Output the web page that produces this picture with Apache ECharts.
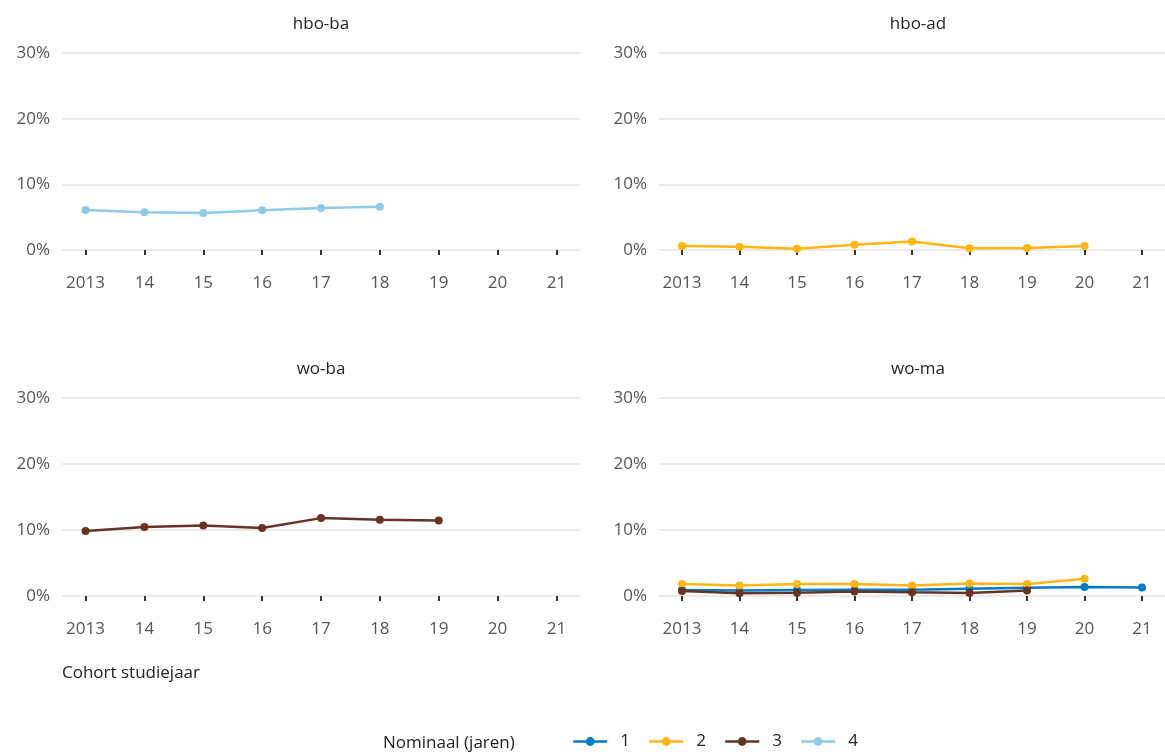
<!DOCTYPE html>
<html>
<head>
<meta charset="utf-8">
<script src="https://cdn.jsdelivr.net/npm/echarts@6/dist/echarts.min.js"></script>
<style>
  html, body { margin: 0; padding: 0; background: #fff; }
  #chart { width: 1165px; height: 754px; }
</style>
</head>
<body>
<div id="chart"></div>
<script>
// cohort years on the x axis
const years = [2013, 2014, 2015, 2016, 2017, 2018, 2019, 2020, 2021];

// panel names
const panels = ['hbo-ba', 'hbo-ad', 'wo-ba', 'wo-ma'];

// percentages per panel / nominal duration
const hboBa4 = [6.1, 5.75, 5.65, 6.05, 6.4, 6.6];
const hboAd2 = [0.6, 0.5, 0.2, 0.8, 1.3, 0.25, 0.3, 0.6];
const woBa3 = [9.85, 10.45, 10.7, 10.3, 11.8, 11.55, 11.45];
const woMa1 = [0.9, 0.85, 0.9, 0.95, 0.95, 1.1, 1.25, 1.35, 1.3];
const woMa2 = [1.8, 1.6, 1.8, 1.8, 1.6, 1.9, 1.8, 2.6];
const woMa3 = [0.75, 0.4, 0.5, 0.7, 0.55, 0.45, 0.85];

const colors = { '1': '#007bc7', '2': '#ffb612', '3': '#673327', '4': '#8fcae7' };
const font = 'Open Sans';

const grids = [
  { left: 62, top: 53, width: 518, height: 197 },
  { left: 659, top: 53, width: 518, height: 197 },
  { left: 62, top: 398, width: 518, height: 198 },
  { left: 659, top: 398, width: 518, height: 198 }
];

const pairs = vals => vals.map((v, i) => [years[i], v]);

const xAxes = grids.map((g, i) => ({
  type: 'value',
  gridIndex: i,
  min: 2012.6,
  max: 2021.4,
  offset: 11,
  axisLine: { show: false },
  splitLine: { show: false },
  axisTick: { show: true, customValues: years, length: 5, lineStyle: { color: '#333', width: 2 } },
  axisLabel: {
    customValues: years,
    margin: 14,
    color: '#555',
    fontSize: 17,
    fontFamily: font,
    formatter: v => (v === 2013 ? '2013' : String(v).slice(2))
  }
}));

const yAxes = grids.map((g, i) => ({
  type: 'value',
  gridIndex: i,
  min: 0,
  max: 30,
  interval: 10,
  axisLine: { show: false },
  axisTick: { show: false },
  splitLine: { lineStyle: { color: '#ebebeb', width: 2 } },
  axisLabel: { margin: 12, color: '#555', fontSize: 17, fontFamily: font, formatter: '{value}%' }
}));

function line(name, idx, vals) {
  return {
    name: name,
    type: 'line',
    xAxisIndex: idx,
    yAxisIndex: idx,
    data: pairs(vals),
    clip: false,
    symbol: 'circle',
    symbolSize: 8,
    color: colors[name],
    lineStyle: { width: 2.5 },
    emphasis: { disabled: true }
  };
}

const series = [
  line('4', 0, hboBa4),
  line('2', 1, hboAd2),
  line('3', 2, woBa3),
  line('1', 3, woMa1),
  line('2', 3, woMa2),
  line('3', 3, woMa3)
];

const textStyle = { fontSize: 17, fontWeight: 'normal', color: '#222', fontFamily: font };

const titles = panels.map((p, i) => ({
  text: p,
  left: grids[i].left + 259,
  top: i < 2 ? 16 : 361,
  padding: 0,
  textAlign: 'center',
  textStyle: textStyle
}));
titles.push({ text: 'Cohort studiejaar', left: 62, top: 665, padding: 0, textStyle: textStyle });
titles.push({ text: 'Nominaal (jaren)', left: 383, top: 735, padding: 0, textStyle: textStyle });

const chart = echarts.init(document.getElementById('chart'));
chart.setOption({
  animation: false,
  title: titles,
  grid: grids,
  xAxis: xAxes,
  yAxis: yAxes,
  legend: {
    data: ['1', '2', '3', '4'],
    left: 572,
    top: 733,
    padding: 0,
    itemWidth: 34,
    itemHeight: 11,
    itemGap: 18,
    lineStyle: { width: 2.5 },
    textStyle: { fontSize: 17, color: '#222', fontFamily: font, padding: [0, 0, 0, 8] }
  },
  series: series
});
</script>
</body>
</html>
